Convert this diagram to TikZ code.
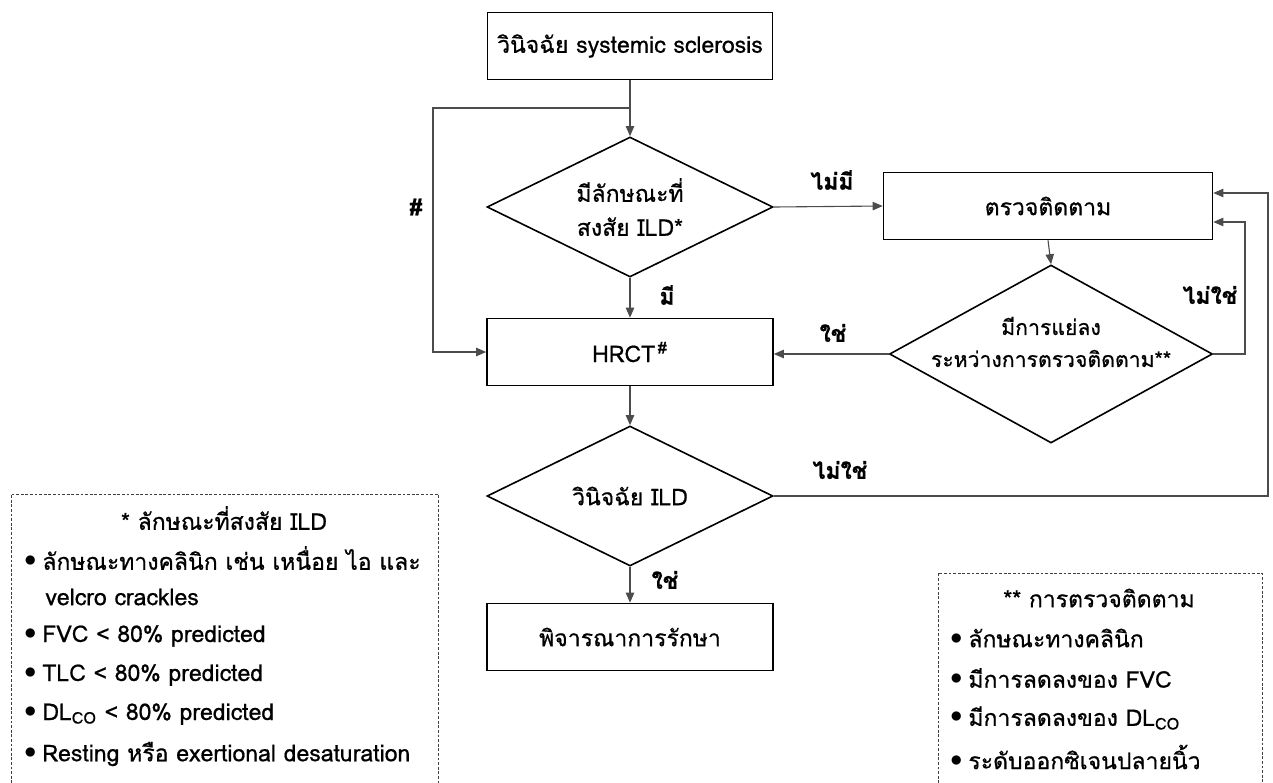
\documentclass[tikz,border=0pt]{standalone}
\usepackage{fontspec}
\setmainfont[Script=Thai,FakeBold=0.7]{Loma}
\usetikzlibrary{arrows.meta,shapes.geometric}
\newcommand{\dotitem}{\raisebox{1.5pt}{$\bullet$}\hspace{3pt}}
\tikzset{
  blk/.style={draw, line width=0.8pt, minimum height=33.5pt, inner sep=0pt},
  dec/.style={draw, diamond, line width=0.8pt, inner sep=0pt, minimum width=143pt, minimum height=70pt},
  lnk/.style={-{Triangle[length=5pt,width=4.2pt]}, black!70, line width=0.55pt},
  lbl/.style={font=\fontsize{11.5}{13}\selectfont\bfseries},
  note/.style={draw=black!75, line width=0.5pt, dash pattern=on 1.4pt off 0.9pt},
  itm/.style={anchor=west, inner sep=0pt},
}

\begin{document}
\begin{tikzpicture}[x=0.5pt,y=-0.5pt,font=\fontsize{11.5}{13}\selectfont]
  \useasboundingbox (0,0) rectangle (1273,782);
  % main column
  \node[blk, minimum width=142.5pt] (sys) at (630,46) {วินิจฉัย systemic sclerosis};
  \node[dec, label={[align=center]center:มีลักษณะที่\\[4pt]สงสัย ILD*}] (ild) at (630,207) {};
  \node[blk, minimum width=143pt] (hrct) at (630,352) {HRCT\textsuperscript{\,\#}};
  \node[dec, label={center:วินิจฉัย ILD}] (dx) at (630,496) {};
  \node[blk, minimum width=143pt] (tx) at (630,637) {พิจารณาการรักษา};
  % follow-up column
  \node[blk, minimum width=164.5pt] (mon) at (1048,206) {ตรวจติดตาม};
  \node[dec, minimum width=161.5pt, minimum height=89pt, label={[align=center,yshift=6pt,font=\fontsize{10.6}{12}\selectfont]center:มีการแย่ลง\\[4pt]ระหว่างการตรวจติดตาม**}] (wrs) at (1051,354) {};
  \coordinate (br) at (630,108);
  % connectors
  \draw[lnk] (sys.south) -- (ild.north);
  \draw[lnk] (br) -- (433,108) -- (433,352) -- (hrct.west);
  \draw[lnk] (ild.south) -- (hrct.north);
  \draw[lnk] (ild.east) -- (mon.west);
  \draw[lnk] (mon.south) -- (wrs.north);
  \draw[lnk] (wrs.west) -- (hrct.east |- wrs.west);
  \draw[lnk] (wrs.east) -- (1245,354) -- (1245,222) -- (mon.east |- 0,222);
  \draw[lnk] (hrct.south) -- (dx.north);
  \draw[lnk] (dx.east) -- (1268,496) -- (1268,193) -- (mon.east |- 0,193);
  \draw[lnk] (dx.south) -- (tx.north);
  % branch labels
  \node[lbl] (l1) at (416,207) {\#};
  \node[lbl] (l2) at (667,295) {มี};
  \node[lbl] (l3) at (832,180) {ไม่มี};
  \node[lbl] (l4) at (833,333) {ใช่};
  \node[lbl] (l5) at (1210,295) {ไม่ใช่};
  \node[lbl] (l6) at (840,470) {ไม่ใช่};
  \node[lbl] (l7) at (665,580) {ใช่};
  % notes
  \draw[note] (11,820) -- (11,494) -- (438,494) -- (438,820);
  \node (n1) at (224,518) {* ลักษณะที่สงสัย ILD};
  \node[itm] at (24,558) {\dotitem ลักษณะทางคลินิก เช่น เหนื่อย ไอ และ};
  \node[itm] at (45,597) {velcro crackles};
  \node[itm] at (24,636) {\dotitem FVC < 80\% predicted};
  \node[itm] at (24,675) {\dotitem TLC < 80\% predicted};
  \node[itm] at (24,714) {\dotitem DL\textsubscript{CO} < 80\% predicted};
  \node[itm] at (24,754) {\dotitem Resting หรือ exertional desaturation};
  \draw[note] (938,820) -- (938,573) -- (1262,573) -- (1262,820);
  \node (n2) at (1099,598) {** การตรวจติดตาม};
  \node[itm] at (950,638) {\dotitem ลักษณะทางคลินิก};
  \node[itm] at (950,678) {\dotitem มีการลดลงของ FVC};
  \node[itm] at (950,718) {\dotitem มีการลดลงของ DL\textsubscript{CO}};
  \node[itm] at (950,757) {\dotitem ระดับออกซิเจนปลายนิ้ว};
\end{tikzpicture}
\end{document}
